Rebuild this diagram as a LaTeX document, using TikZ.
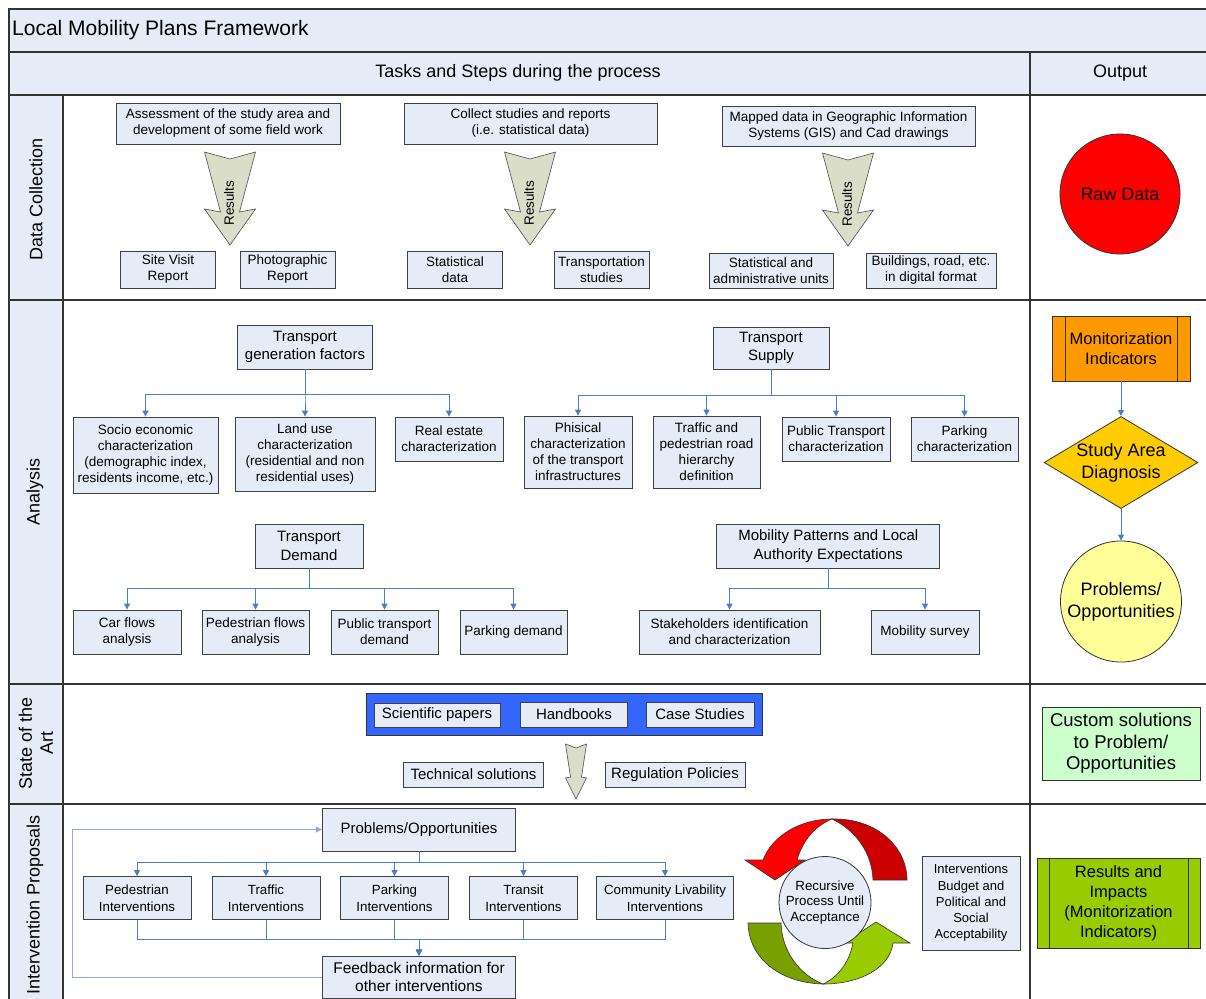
\documentclass[tikz,border=0pt]{standalone}
\usepackage{fontspec}
\setmainfont{Liberation Sans}
\usepackage{xcolor}
\usetikzlibrary{shapes.geometric,arrows.meta}

\definecolor{paleblue}{RGB}{230,236,247}
\definecolor{linkblue}{RGB}{74,126,200}
\definecolor{loopblue}{RGB}{142,170,220}
\definecolor{sage}{RGB}{218,222,200}
\definecolor{srcblue}{RGB}{51,102,255}
\definecolor{orangebox}{RGB}{255,153,0}
\definecolor{goldbox}{RGB}{255,204,0}
\definecolor{paleyellow}{RGB}{255,255,153}
\definecolor{palegreen}{RGB}{204,255,204}
\definecolor{limegreen}{RGB}{153,204,0}
\definecolor{olivegreen}{RGB}{119,160,0}
\definecolor{darkred}{RGB}{204,0,0}

\tikzset{
  box/.style = {draw=black!75, fill=paleblue, align=center,
                inner sep=0pt, line width=0.8pt,
                font=\fontsize{13.5}{16}\selectfont},
  bigbox/.style = {box, font=\fontsize{15}{18.3}\selectfont},
  sz/.style 2 args = {minimum width=#1pt, minimum height=#2pt},
  link/.style = {draw=linkblue, line width=1pt,
                 -{Triangle[length=6pt,width=6pt]}},
  gridline/.style = {draw=black!80, line width=1.2pt},
  lane/.style = {rotate=90, align=center, inner sep=0pt,
                 font=\fontsize{18}{21}\selectfont},
  outbox/.style = {draw=black!80, align=center, inner sep=0pt, line width=0.8pt}
}

% big "Results" arrow: name, x, top y
\newcommand{\resarrow}[3]{%
  \draw[fill=sage, draw=black!70, line width=0.6pt]
    (#2-25.5,#3) -- (#2,#3+7) -- (#2+25.5,#3) -- (#2+9.5,#3+60)
    -- (#2+25.5,#3+57) -- (#2,#3+93) -- (#2-25.5,#3+57) -- (#2-9.5,#3+60) -- cycle;
  \node[rotate=90, inner sep=0pt, font=\fontsize{13.5}{16}\selectfont] (#1) at (#2-1,#3+51) {Results};
}

\begin{document}
\begin{tikzpicture}[x=1pt, y=-1pt]
	\def \xl{9}
	\def \xr{1210}
	\def \yb{1002}

	\useasboundingbox (0,0) rectangle (1206,998);

	% Frame
	\fill[paleblue] (\xl,9) rectangle (\xr,95);
	\fill[paleblue] (\xl,95) rectangle (63,\yb);
	\draw[gridline] (\xl,9) rectangle (\xr,\yb);
	\draw[gridline] (\xl,52)  -- (\xr,52);
	\draw[gridline] (\xl,95)  -- (\xr,95);
	\draw[gridline] (\xl,300) -- (\xr,300);
	\draw[gridline] (\xl,684) -- (\xr,684);
	\draw[gridline] (\xl,804) -- (\xr,804);
	\draw[gridline] (63,95)   -- (63,\yb);
	\draw[gridline] (1030,52) -- (1030,\yb);

	% Headers
	\node[anchor=west, inner sep=0pt, font=\fontsize{21}{24}\selectfont] (title) at (12,30) {Local Mobility Plans Framework};
	\node[font=\fontsize{18}{21}\selectfont] (tasks) at (518,73) {Tasks and Steps during the process};
	\node[font=\fontsize{18}{21}\selectfont] (output) at (1120,73) {Output};

	% Lanes
	\node[lane] (lanedata) at (36,199) {Data Collection};
	\node[lane] (laneanalysis) at (35,492) {Analysis};
	\node[lane] (laneart) at (36,743) {State of the\\Art};
	\node[lane] (laneprop) at (35,905) {Intervention Proposals};

	% Data collection
	\node[box, sz={224}{41}] (assess) at (228,123.5) {Assessment of the study area and\\development of some field work};
	\node[box, sz={253}{41}] (collect) at (530.5,123.5) {Collect studies and reports\\(i.e. statistical data)};
	\node[box, sz={253}{40}] (mapped) at (848.5,126) {Mapped data in Geographic Information\\Systems (GIS) and Cad drawings};

	\resarrow{res1}{230}{152}
	\resarrow{res2}{530}{152}
	\resarrow{res3}{848}{153}

	\node[box, sz={95}{37}] (sitevisit) at (168,269.5) {Site Visit\\Report};
	\node[box, sz={95}{37}] (photo) at (287.5,269.5) {Photographic\\Report};
	\node[box, sz={95}{37}] (statdata) at (455,269.5) {Statistical\\data};
	\node[box, sz={95}{37}] (transstudies) at (601.5,269.5) {Transportation\\studies};
	\node[box, sz={124}{35}] (statadmin) at (771,270.5) {Statistical and\\administrative units};
	\node[box, sz={130}{35}] (buildings) at (931,270.5) {Buildings, road, etc.\\in digital format};

	% Analysis
	\node[bigbox, sz={135}{44}] (tgf) at (305,347) {Transport\\generation factors};
	\node[box, sz={145}{76}] (socio) at (145.5,455) {Socio economic\\characterization\\(demographic index,\\residents income, etc.)};
	\node[box, sz={140}{74}] (landuse) at (305,454) {Land use\\characterization\\(residential and non\\residential uses)};
	\node[box, sz={108}{44}] (realestate) at (449,439) {Real estate\\characterization};

	\node[bigbox, sz={116}{42}] (supply) at (771,348) {Transport\\Supply};
	\node[box, sz={108}{72}] (phisical) at (578,452) {Phisical\\characterization\\of the transport\\infrastructures};
	\node[box, sz={107}{72}] (hierarchy) at (706.5,452) {Traffic and\\pedestrian road\\hierarchy\\definition};
	\node[box, sz={108}{44}] (ptchar) at (836,439) {Public Transport\\characterization};
	\node[box, sz={107}{44}] (parkchar) at (964.5,439) {Parking\\characterization};

	\node[bigbox, sz={108}{44}] (demand) at (309,546) {Transport\\Demand};
	\node[box, sz={108}{44}] (carflows) at (127,632) {Car flows\\analysis};
	\node[box, sz={107}{44}] (pedflows) at (255.5,632) {Pedestrian flows\\analysis};
	\node[box, sz={107}{44}] (ptdemand) at (384.5,632) {Public transport\\demand};
	\node[box, sz={107}{44}] (parkdemand) at (513.5,632) {Parking demand};

	\node[bigbox, sz={223}{44}] (patterns) at (828.3,546) {Mobility Patterns and Local\\Authority Expectations};
	\node[box, sz={181}{44}] (stakeholders) at (729.5,632) {Stakeholders identification\\and characterization};
	\node[box, sz={108}{44}] (survey) at (925,632) {Mobility survey};

	\foreach \n in {socio,landuse,realestate}
		\draw[link] (tgf.south) -- ++(0,25) -| (\n.north);
	\foreach \n in {phisical,hierarchy,ptchar,parkchar}
		\draw[link] (supply.south) -- ++(0,26) -| (\n.north);
	\foreach \n in {carflows,pedflows,ptdemand,parkdemand}
		\draw[link] (demand.south) -- ++(0,20) -| (\n.north);
	\foreach \n in {stakeholders,survey}
		\draw[link] (patterns.south) -- ++(0,20) -| (\n.north);

	% State of the art
	\node[outbox, fill=srcblue, sz={396}{42}] (sources) at (564,714) {};
	\node[bigbox, sz={126}{24}] (papers) at (437,715) {Scientific papers};
	\node[bigbox, sz={107.5}{25}] (handbooks) at (574,714.5) {Handbooks};
	\node[bigbox, sz={108}{25}] (cases) at (700,714.5) {Case Studies};
	\node[bigbox, sz={140}{25}] (technical) at (473.5,774.5) {Technical solutions};
	\node[bigbox, sz={140}{25}] (regulation) at (675,774.5) {Regulation Policies};
	\draw[fill=sage, draw=black!70, line width=0.6pt]
		(565.5,744) -- (576,748) -- (586.5,744) -- (581.5,777) -- (586.5,778)
		-- (576,799) -- (565.5,778) -- (570.5,777) -- cycle;

	% Intervention proposals
	\node[bigbox, sz={193.5}{43}] (probopp) at (419,829.5) {Problems/Opportunities};
	\node[box, sz={108}{43}, font=\fontsize{13.3}{17}\selectfont] (pedint) at (137,898) {Pedestrian\\Interventions};
	\node[box, sz={108}{43}, font=\fontsize{13.3}{17}\selectfont] (trafint) at (266,898) {Traffic\\Interventions};
	\node[box, sz={108}{43}, font=\fontsize{13.3}{17}\selectfont] (parkint) at (394.5,898) {Parking\\Interventions};
	\node[box, sz={108}{43}, font=\fontsize{13.3}{17}\selectfont] (transint) at (523.5,898) {Transit\\Interventions};
	\node[box, sz={137}{43}, font=\fontsize{13.3}{17}\selectfont] (commint) at (665,898) {Community Livability\\Interventions};
	\node[box, sz={193.5}{42}, font=\fontsize{15.5}{18.3}\selectfont] (fb) at (419,977) {Feedback information for\\other interventions};

	\foreach \n in {pedint,trafint,parkint,transint,commint}
		\draw[link] (probopp.south) -- ++(0,11) -| (\n.north);
	\foreach \n in {pedint,trafint,parkint,transint,commint}
		\draw[link] (\n.south) -- ++(0,20) -| (fb.north);
	\draw[link, draw=loopblue] (fb.west) -- ++(-249,0) |- (probopp.west);

	% Recursive arrows
	\filldraw[fill=darkred, draw=black!80, line width=0.6pt]
		(832,819) .. controls (878,818) and (907,848) .. (907,880) -- (873,880)
		.. controls (872,852) and (855,830) .. (832,819) -- cycle;
	\filldraw[fill=red, draw=black!80, line width=0.6pt]
		(832,819) .. controls (800,819) and (772,836) .. (763,860) -- (745,860)
		-- (775,880) -- (805,860) -- (797,860)
		.. controls (803,840) and (815,826) .. (832,819) -- cycle;
	\filldraw[fill=olivegreen, draw=black!80, line width=0.6pt]
		(748,923) -- (781,923) .. controls (782,952) and (800,975) .. (823,984)
		.. controls (782,983) and (749,960) .. (748,923) -- cycle;
	\filldraw[fill=limegreen, draw=black!80, line width=0.6pt]
		(823,984) .. controls (860,984) and (890,968) .. (893,943) -- (910,943)
		-- (876,922) -- (844,943) -- (853,943)
		.. controls (849,963) and (838,977) .. (823,984) -- cycle;
	\node[circle, draw=black!80, fill=paleblue, line width=0.8pt, minimum size=92pt, inner sep=0pt,
		align=center, font=\fontsize{13.3}{15.7}\selectfont] (recursive) at (825,902.5) {Recursive\\Process Until\\Acceptance};
	\node[box, sz={98}{94}, font=\fontsize{13}{16.3}\selectfont] (budget) at (971,903) {Interventions\\Budget and\\Political and\\Social\\Acceptability};

	% Output
	\node[outbox, circle, fill=red, minimum size=120pt, font=\fontsize{18}{21}\selectfont] (rawdata) at (1120,194) {Raw Data};
	\node[outbox, fill=orangebox, sz={138}{65}, font=\fontsize{16.5}{20}\selectfont] (monitor) at (1121,348.5) {Monitorization\\Indicators};
	\draw[black!80, line width=0.8pt] ([xshift=14pt]monitor.north west) -- ([xshift=14pt]monitor.south west);
	\draw[black!80, line width=0.8pt] ([xshift=-13pt]monitor.north east) -- ([xshift=-13pt]monitor.south east);
	\node[outbox, diamond, fill=goldbox, aspect=1.67, minimum width=152pt, minimum height=91pt,
		font=\fontsize{18}{22}\selectfont] (diagnosis) at (1121,462.5) {Study Area\\Diagnosis};
	\node[outbox, circle, fill=paleyellow, minimum size=121pt, font=\fontsize{18}{21.7}\selectfont] (problems) at (1121,601.5) {Problems/\\Opportunities};
	\draw[link] (monitor) -- (diagnosis);
	\draw[link] (diagnosis) -- (problems);

	\node[outbox, fill=palegreen, sz={158}{73}, font=\fontsize{18.5}{21.5}\selectfont] (custom) at (1121,743.5) {Custom solutions\\to Problem/\\Opportunities};
	\node[outbox, fill=limegreen, sz={163}{90}, font=\fontsize{16.5}{20}\selectfont] (impacts) at (1118.5,903) {Results and\\Impacts\\(Monitorization\\Indicators)};
	\draw[black!80, line width=0.8pt] ([xshift=13pt]impacts.north west) -- ([xshift=13pt]impacts.south west);
	\draw[black!80, line width=0.8pt] ([xshift=-12pt]impacts.north east) -- ([xshift=-12pt]impacts.south east);

\end{tikzpicture}
\end{document}
